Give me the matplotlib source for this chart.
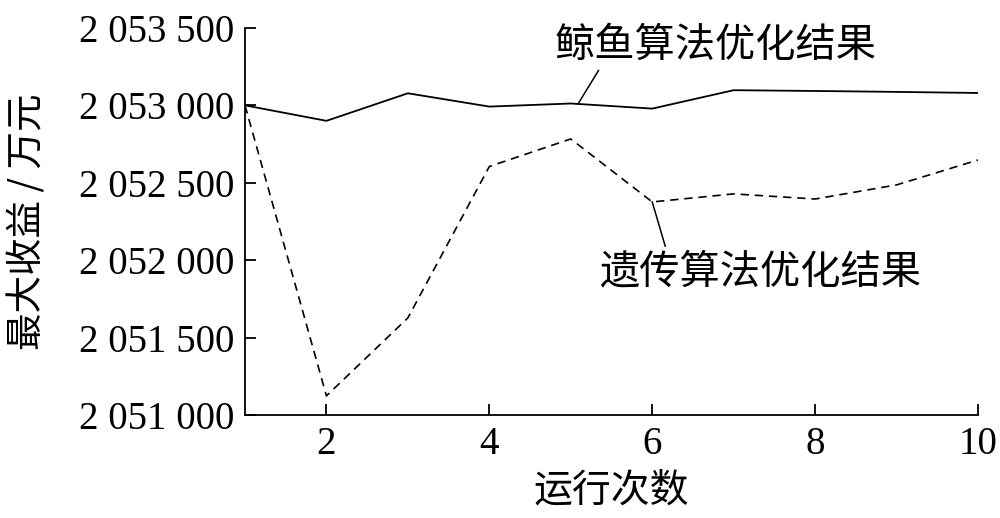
import matplotlib
matplotlib.use('Agg')
import matplotlib.pyplot as plt
from matplotlib.ticker import FuncFormatter

runs = [1, 2, 3, 4, 5, 6, 7, 8, 9, 10]
woa = [2053000, 2052900, 2053078, 2052992, 2053012, 2052979, 2053098, 2053093, 2053087, 2053080]
ga = [2053000, 2051123, 2051627, 2052605, 2052783, 2052376, 2052428, 2052395, 2052486, 2052647]

num_font = ['Liberation Serif', 'Noto Sans CJK SC']
cjk_font = ['Noto Sans CJK SC', 'Liberation Serif']

fig = plt.figure(figsize=(10, 5.18), dpi=100)
ax = fig.add_axes([0.245, 0.199, 0.733, 0.747])

ax.plot(runs, woa, color='black', lw=1.3, solid_joinstyle='miter')
ax.plot(runs, ga, color='black', lw=1.2, linestyle=(0, (5, 3.5)))

ax.set_xlim(1, 10)
ax.set_ylim(2051000, 2053500)
ax.set_xticks([2, 4, 6, 8, 10])
ax.set_yticks([2051000, 2051500, 2052000, 2052500, 2053000, 2053500])
ax.yaxis.set_major_formatter(FuncFormatter(lambda v, p: f"{int(v):,}".replace(',', ' ')))

for s in ['top', 'right']:
    ax.spines[s].set_visible(False)
for s in ['left', 'bottom']:
    ax.spines[s].set_linewidth(1.3)
ax.tick_params(direction='in', length=8, width=1.3, labelsize=28, pad=8)
for lab in ax.get_xticklabels() + ax.get_yticklabels():
    lab.set_family(num_font)

ax.set_xlabel('运行次数', family=cjk_font, fontsize=28, fontweight='light', labelpad=6)
ax.set_ylabel('最大收益 / 万元', family=cjk_font, fontsize=27, fontweight='light', labelpad=22)

# leader lines and labels
ax.plot([5.09, 5.34], [2053010, 2053225], color='black', lw=1.1)
ax.text(6.78, 2053390, '鲸鱼算法优化结果', family=cjk_font, fontsize=29,
        fontweight='light', ha='center', va='center')
ax.plot([6.0, 6.16], [2052376, 2052090], color='black', lw=1.1)
ax.text(7.32, 2051924, '遗传算法优化结果', family=cjk_font, fontsize=29,
        fontweight='light', ha='center', va='center')

fig.savefig('out.png', dpi=100)
